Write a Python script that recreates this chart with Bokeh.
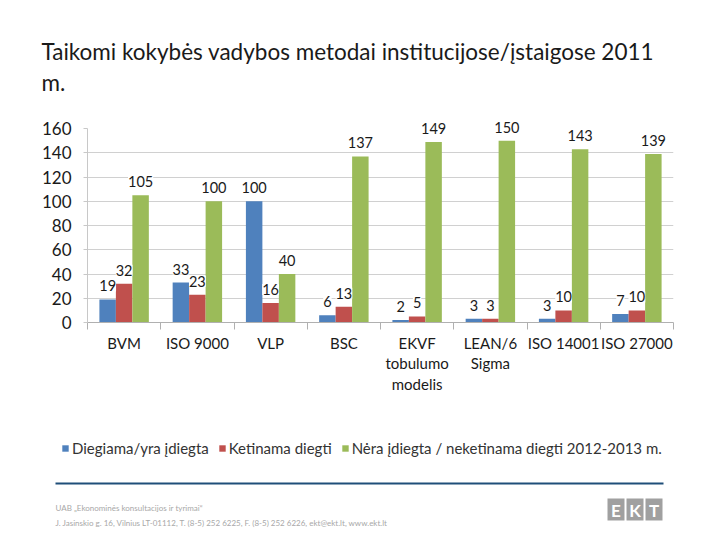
from bokeh.plotting import figure
from bokeh.models import (ColumnDataSource, Range1d, FixedTicker, LabelSet, Label,
                          Legend, LegendItem, BoxAnnotation)
from bokeh.core.properties import value
from bokeh.transform import dodge
from bokeh.embed import file_html
from bokeh.resources import INLINE

# ---------------- data ----------------
categories = ["BVM", "ISO 9000", "VLP", "BSC", "EKVF\ntobulumo\nmodelis",
              "LEAN/6\nSigma", "ISO 14001", "ISO 27000"]
diegiama = [19, 33, 100, 6, 2, 3, 3, 7]
ketinama = [32, 23, 16, 13, 5, 3, 10, 10]
nera = [105, 100, 40, 137, 149, 150, 143, 139]
series_names = ["Diegiama/yra įdiegta", "Ketinama diegti",
                "Nėra įdiegta / neketinama diegti 2012-2013 m."]
y_ticks = [0, 20, 40, 60, 80, 100, 120, 140, 160]
title_lines = ["Taikomi kokybės vadybos metodai institucijose/įstaigose 2011", "m."]
footer_lines = ["UAB „Ekonominės konsultacijos ir tyrimai“",
                "J. Jasinskio g. 16, Vilnius LT-01112, T. (8-5) 252 6225, F. (8-5) 252 6226, ekt@ekt.lt, www.ekt.lt"]
logo_letters = ["E", "K", "T"]

colors = ["#4F81BD", "#C0504D", "#9BBB59"]
FONT = "Lato"
TXT = "#1a1a1a"

W = 720
H_TOP, H_MAIN, H_BOT = 110, 315, 115


def deco_fig(h):
    f = figure(width=W, height=h, output_backend="svg", toolbar_location=None,
               x_range=Range1d(0, W), y_range=Range1d(h, 0),
               x_axis_type=None, y_axis_type=None, min_border=0,
               min_border_left=0, min_border_right=0, min_border_top=0, min_border_bottom=0,
               outline_line_color=None, background_fill_color="white",
               border_fill_color="white")
    f.grid.visible = False
    return f


# ---------------- title strip ----------------
top = deco_fig(H_TOP)
for i, t in enumerate(title_lines):
    top.add_layout(Label(x=41, y=51 + 31 * i, text=t, text_font=FONT,
                         text_font_size="22.5px", text_color=TXT,
                         text_baseline="middle"))

# ---------------- main chart ----------------
FRAME_TOP, FRAME_BOT = 116, 322
p = figure(width=W, height=H_MAIN, output_backend="svg", toolbar_location=None,
           x_range=Range1d(-0.5, len(categories) - 0.5), y_range=Range1d(0, 170),
           min_border_left=87, min_border_right=47, min_border_top=FRAME_TOP - H_TOP,
           min_border_bottom=H_TOP + H_MAIN - FRAME_BOT, outline_line_color=None,
           background_fill_color="white", border_fill_color="white")

idx = list(range(len(categories)))
src = ColumnDataSource(dict(x=idx, a=diegiama, b=ketinama, c=nera,
                            ta=[str(v) for v in diegiama],
                            tb=[str(v) for v in ketinama],
                            tc=[str(v) for v in nera]))

bw = 0.225
offs = [-bw, 0.0, bw]
cols = ["a", "b", "c"]
tcols = ["ta", "tb", "tc"]
for off, col, tcol, color in zip(offs, cols, tcols, colors):
    p.vbar(x=dodge("x", off), top=col, width=bw, source=src,
           fill_color=color, line_color=None)
    p.add_layout(LabelSet(x=dodge("x", off), y=col, text=tcol, source=src,
                          text_align="center", text_baseline="bottom", y_offset=8,
                          text_font=value(FONT), text_font_size=value("14.5px"),
                          text_color=TXT, background_fill_color="white"))

p.yaxis.ticker = FixedTicker(ticks=y_ticks)
p.yaxis.bounds = (0, 160)
p.yaxis.major_label_text_font = FONT
p.yaxis.major_label_text_font_size = "17px"
p.yaxis.major_label_text_color = TXT
p.yaxis.axis_line_color = "#c8c8c8"
p.yaxis.major_tick_line_color = "#c8c8c8"
p.yaxis.minor_tick_line_color = None
p.yaxis.major_tick_out = 4
p.yaxis.major_tick_in = 0
p.yaxis.major_label_standoff = 12

p.xaxis.ticker = FixedTicker(ticks=idx, minor_ticks=[i - 0.5 for i in range(len(categories) + 1)])
p.xaxis.major_label_overrides = {i: c for i, c in enumerate(categories)}
p.xaxis.major_label_text_font = FONT
p.xaxis.major_label_text_font_size = "15px"
p.xaxis.major_label_text_color = TXT
p.xaxis.major_label_text_line_height = 1.15
p.xaxis.axis_line_color = "#b0b0b0"
p.xaxis.major_tick_line_color = None
p.xaxis.major_tick_out = 0
p.xaxis.minor_tick_line_color = "#b0b0b0"
p.xaxis.minor_tick_out = 7
p.xaxis.minor_tick_in = 0
p.xaxis.major_label_standoff = 4

p.xgrid.grid_line_color = None
p.ygrid.ticker = FixedTicker(ticks=y_ticks[1:-1])
p.ygrid.grid_line_color = "#d0d0d0"

# ---------------- legend + footer strip ----------------
bot = deco_fig(H_BOT)
y0 = H_TOP + H_MAIN  # page y of this strip's top
# swatch renderers for the legend (placed outside the visible range)
leg_rends = [bot.vbar(x=[-100], top=[0], width=1, fill_color=c, line_color=None) for c in colors]
legend = Legend(items=[LegendItem(label=n, renderers=[r]) for n, r in zip(series_names, leg_rends)],
                orientation="horizontal", location=(61, H_BOT - (457 - y0)),
                padding=0, margin=0, spacing=9, label_standoff=3,
                glyph_width=8, glyph_height=8, border_line_color=None,
                background_fill_alpha=0, label_text_font=FONT,
                label_text_font_size="15px", label_text_color="#333333")
bot.add_layout(legend, "center")

bot.add_layout(BoxAnnotation(left=55, right=663, top=482 - y0, bottom=484 - y0,
                             fill_color="#1F4E79", fill_alpha=1, line_color=None))
for i, t in enumerate(footer_lines):
    bot.add_layout(Label(x=55, y=507 + 15 * i - y0, text=t, text_font=FONT,
                         text_font_size="8px", text_color="#a8a8a8",
                         text_baseline="middle"))
for i, L in enumerate(logo_letters):
    left = 607 + i * 19
    bot.add_layout(BoxAnnotation(left=left, right=left + 17, top=498 - y0, bottom=520 - y0,
                                 fill_color="#a0a0a0", fill_alpha=1, line_color=None))
    bot.add_layout(Label(x=left + 8.5, y=509.5 - y0, text=L, text_font=FONT,
                         text_font_size="17px", text_font_style="bold",
                         text_color="white", text_align="center", text_baseline="middle"))

open("out.html", "w").write(file_html([top, p, bot], INLINE))
